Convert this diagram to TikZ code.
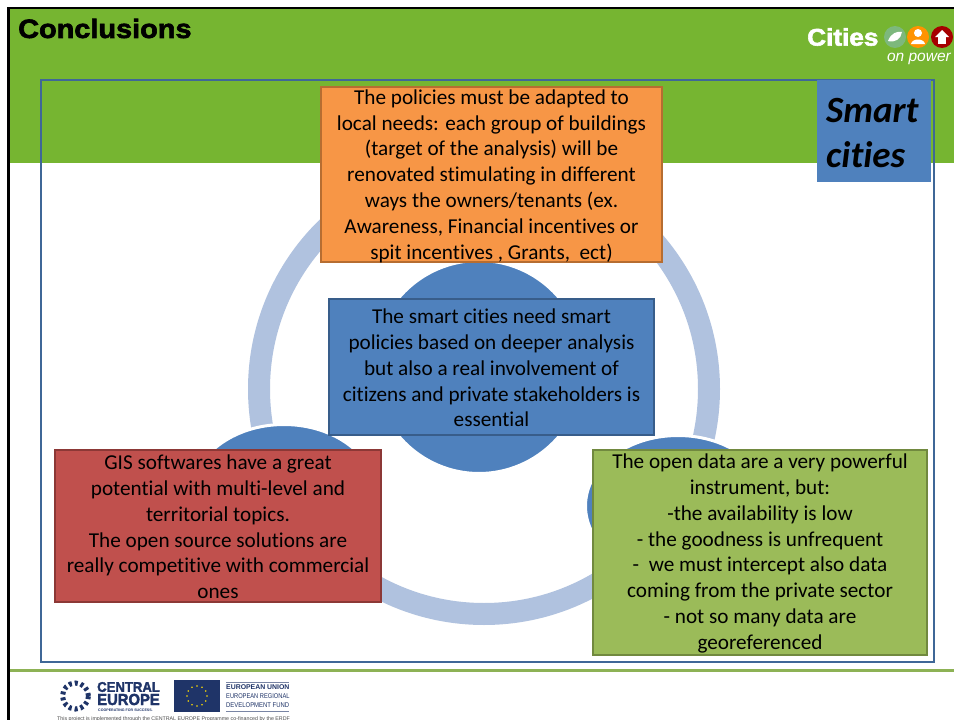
\documentclass[tikz,border=0pt]{standalone}
\usepackage{fontspec}
\usetikzlibrary{calc,shapes.geometric}
\setmainfont[Ligatures=NoCommon]{Carlito}
\newfontfamily\titlefont{Liberation Sans}
\newfontfamily\heavyfont[BoldFeatures={FakeBold=2.4,FakeStretch=1.09}]{Liberation Sans}
\definecolor{bandgreen}{HTML}{76B531}
\definecolor{rulegreen}{HTML}{8DB255}
\definecolor{framecol}{HTML}{3F6797}
\definecolor{ringcol}{HTML}{B0C2DF}
\definecolor{bluefill}{HTML}{4F81BD}
\definecolor{blueedge}{HTML}{385D8A}
\definecolor{orangefill}{HTML}{F79646}
\definecolor{orangeedge}{HTML}{B66D31}
\definecolor{redfill}{HTML}{C0504D}
\definecolor{rededge}{HTML}{8C3836}
\definecolor{greenfill}{HTML}{9BBB59}
\definecolor{greenedge}{HTML}{71893F}
\definecolor{navy}{HTML}{1F3468}
\newcommand{\boxtext}[3]{\raisebox{#1}[\height][\depth]{\parbox{#2}{\centering #3}}}
\tikzset{
  x=1pt,y=-1pt,
  msgbox/.style={draw,line width=2.4pt,inner sep=0pt,align=center,text=black,
    font=\fontsize{21.2}{25.8}\selectfont},
  hub/.style={ellipse,fill=bluefill,draw=white,line width=3pt,inner sep=0pt},
}
\begin{document}
\begin{tikzpicture}
\useasboundingbox (0,0) rectangle (954,720);
\fill[white] (0,0) rectangle (954,720);
\fill[bandgreen] (9,8) rectangle (954,163);
\draw[black,line width=2.6pt] (954,8) -- (8.5,8) -- (8.5,720);
\draw[rulegreen,line width=3pt] (10,670) -- (954,670);
% ring
\draw[ringcol,line width=22pt] (484,389) circle[radius=225];
% hubs
\node[hub,minimum width=211pt,minimum height=213pt] (hubc) at (479,367) {};
\node[hub,minimum width=185pt,minimum height=141pt] (hubl) at (284,495) {};
\node[hub,minimum width=185pt,minimum height=141pt] (hubr) at (678,506) {};
% frame
\draw[framecol,line width=2.6pt] (41,80) rectangle (934,662);
% smart cities
\fill[bluefill] (817,80) rectangle (931,182);
\node[anchor=west,inner sep=0pt,align=left,
  font=\fontsize{37}{45}\selectfont\bfseries\itshape] (smart) at (826,133) {Smart\\cities};
% boxes
\node[msgbox,fill=orangefill,draw=orangeedge,minimum width=341pt,minimum height=175pt] (orange) at (491.5,174.5)
 {\boxtext{-1.5pt}{335pt}{The policies must be adapted to\\local needs: each group of buildings\\(target of the analysis) will be\\renovated stimulating in different\\ways the owners/tenants (ex.\\Awareness, Financial incentives or\\spit incentives , Grants,\ \ ect)}};
\node[msgbox,fill=bluefill,draw=blueedge,minimum width=325pt,minimum height=136pt] (centre) at (491.5,367)
 {\boxtext{-1pt}{319pt}{The smart cities need smart\\policies based on deeper analysis\\but also a real involvement of\\citizens and private stakeholders is\\essential}};
\node[msgbox,fill=redfill,draw=rededge,minimum width=326pt,minimum height=152pt] (red) at (218,526)
 {\boxtext{-1pt}{320pt}{GIS softwares have a great\\potential with multi-level and\\territorial topics.\\The open source solutions are\\really competitive with commercial\\ones}};
\node[msgbox,fill=greenfill,draw=greenedge,minimum width=334pt,minimum height=205pt] (green) at (760,552.5)
 {\boxtext{-1pt}{328pt}{The open data are a very powerful\\instrument, but:\\-the availability is low\\- the goodness is unfrequent\\-\ \ we must intercept also data\\coming from the private sector\\- not so many data are\\georeferenced}};
% title
\node[anchor=west,inner sep=0pt,font=\heavyfont\bfseries\fontsize{26.5}{30}\selectfont,text=black] (title) at (18,28.5)
 {Conclusions};
% top logo
\node[anchor=west,inner sep=0pt,text=white,font=\heavyfont\bfseries\fontsize{24}{26}\selectfont] (cities) at (807,37) {Cities};
\node[anchor=east,inner sep=0pt,text=white,font=\titlefont\itshape\fontsize{15.5}{17}\selectfont] (onpower) at (951,59) {on power};
\fill[white!45!green!60!black!70!white] (895,37) circle[radius=11];
\fill[white] (888,41) .. controls (891,33) and (897,31) .. (902,32) .. controls (901,39) and (895,43) .. (888,41) -- cycle;
\fill[orange!85!yellow] (918,37) circle[radius=11];
\fill[white] (918,33) circle[radius=4];
\fill[white] (911,44) .. controls (912,38) and (924,38) .. (925,44) -- cycle;
\fill[red!65!black] (942,37) circle[radius=11];
\fill[white] (942,30) -- (949,37) -- (935,37) -- cycle;
\fill[white] (938,37) rectangle (946,44);
% bottom logo
\node[circle,draw=navy,dashed,line width=5pt,minimum size=26pt,inner sep=0pt] (starc) at (75.5,696) {};
\node[anchor=west,inner sep=0pt,text=navy,font=\heavyfont\bfseries\fontsize{14}{14}\selectfont] (central) at (97,687) {\scalebox{.86}[1]{CENTRAL}};
\node[anchor=west,inner sep=0pt,text=navy,font=\heavyfont\bfseries\fontsize{16}{14}\selectfont] (europe) at (97,699.5) {\scalebox{.85}[1]{EUROPE}};
\node[anchor=west,inner sep=0pt,text=navy,font=\titlefont\bfseries\fontsize{3.6}{4}\selectfont] (coop) at (98,710) {COOPERATING FOR SUCCESS.};
\node[fill=navy,minimum width=46pt,minimum height=32pt,inner sep=0pt] (flag) at (197,696) {};
\foreach \a in {0,30,...,330}
  \fill[yellow!80!orange] ($(flag)+(\a:10)$) circle[radius=0.9];
\draw[navy!60,line width=.5pt] (226,682) -- (289,682) (226,711) -- (289,711);
\node[anchor=west,inner sep=0pt,text=navy,font=\titlefont\fontsize{6.9}{9}\selectfont,align=left] (eu) at (226,696)
 {\textbf{EUROPEAN UNION}\\\scalebox{.83}[1]{EUROPEAN REGIONAL}\\\scalebox{.86}[1]{DEVELOPMENT FUND}};
\node[anchor=west,inner sep=0pt,text=black!70,font=\titlefont\fontsize{5.3}{6}\selectfont] (note) at (57,719)
 {This project is implemented through the CENTRAL EUROPE Programme co-financed by the ERDF};
\end{tikzpicture}
\end{document}
